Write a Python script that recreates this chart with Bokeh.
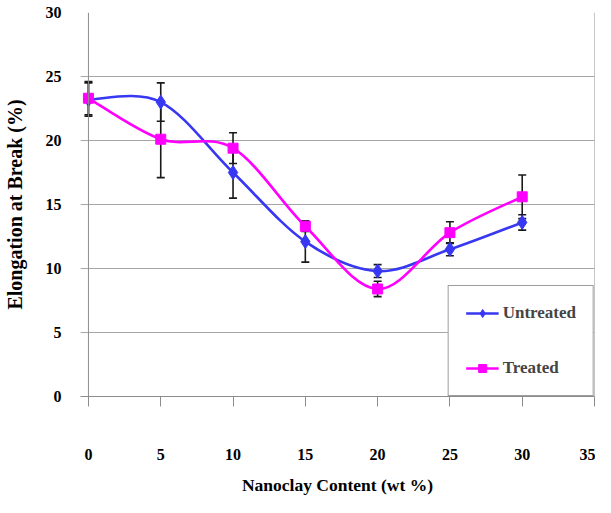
from bokeh.plotting import figure
from bokeh.models import Whisker, TeeHead, ColumnDataSource, Legend, LegendItem, FixedTicker, Range1d, Span
from bokeh.embed import file_html
from bokeh.resources import INLINE

# ---- data ----
nanoclay = [0, 5, 10, 15, 20, 25, 30]
untreated = [23.2, 23.0, 17.5, 12.1, 9.8, 11.5, 13.6]
untreated_err = [1.3, 1.5, 2.0, 1.6, 0.5, 0.5, 0.6]
treated = [23.3, 20.1, 19.4, 13.3, 8.4, 12.8, 15.6]
treated_err = [1.3, 3.0, 1.2, 0.4, 0.6, 0.85, 1.7]
x_ticks = [0, 5, 10, 15, 20, 25, 30, 35]
y_ticks = [0, 5, 10, 15, 20, 25, 30]

FONT = "Liberation Serif"
BLUE = "#3838f2"
MAGENTA = "#ff00ff"
GRAY = "#8c8c8c"


def smooth_segments(xs, ys):
    """Bezier segments (Catmull-Rom style smoothing, like a spreadsheet smoothed line)."""
    n = len(xs)
    seg = dict(x0=[], y0=[], x1=[], y1=[], cx0=[], cy0=[], cx1=[], cy1=[])
    for i in range(n - 1):
        ip = max(i - 1, 0)
        inn = min(i + 2, n - 1)
        seg["x0"].append(xs[i]); seg["y0"].append(ys[i])
        seg["x1"].append(xs[i + 1]); seg["y1"].append(ys[i + 1])
        seg["cx0"].append(xs[i] + (xs[i + 1] - xs[ip]) / 6.0)
        seg["cy0"].append(ys[i] + (ys[i + 1] - ys[ip]) / 6.0)
        seg["cx1"].append(xs[i + 1] - (xs[inn] - xs[i]) / 6.0)
        seg["cy1"].append(ys[i + 1] - (ys[inn] - ys[i]) / 6.0)
    return ColumnDataSource(seg)


# the frame starts 8px left of x=0 so that gridlines stick out like tick marks
p = figure(width=595, height=497, output_backend="svg", toolbar_location=None,
           x_range=Range1d(-0.55, 35), y_range=Range1d(0, 30),
           min_border_left=79, min_border_right=1, min_border_top=12, min_border_bottom=99)

p.background_fill_color = "white"
p.border_fill_color = "white"
p.outline_line_color = None

p.xgrid.visible = False
p.ygrid.grid_line_color = "#a6a6a6"
p.ygrid.grid_line_width = 1.2

for ax in (p.xaxis[0], p.yaxis[0]):
    ax.axis_line_color = GRAY
    ax.major_tick_line_color = GRAY
    ax.minor_tick_line_color = None
    ax.major_tick_in = 0
    ax.major_label_text_font = FONT
    ax.major_label_text_font_style = "bold"
    ax.major_label_text_font_size = "16px"
    ax.major_label_text_color = "black"
    ax.axis_label_text_font = FONT
    ax.axis_label_text_font_style = "bold"
    ax.axis_label_text_color = "black"

p.xaxis.ticker = FixedTicker(ticks=x_ticks)
p.yaxis.ticker = FixedTicker(ticks=y_ticks)
p.yaxis.axis_line_color = None
p.yaxis.major_tick_line_color = None
p.yaxis.major_tick_out = 0
p.xaxis.major_tick_out = 10
p.xaxis.major_label_standoff = 42
p.yaxis.major_label_standoff = 19
p.xaxis.axis_label = "Nanoclay Content (wt %)"
p.yaxis.axis_label = "Elongation at Break (%)"
p.xaxis.axis_label_text_font_size = "17.5px"
p.yaxis.axis_label_text_font_size = "20px"
p.xaxis.axis_label_standoff = 12
p.yaxis.axis_label_standoff = 17

# value axis line at x = 0 and right border of the plot area
p.add_layout(Span(location=0, dimension="height", line_color=GRAY, line_width=1))
p.add_layout(Span(location=35, dimension="height", line_color=GRAY, line_width=1))

# error bars
src_u = ColumnDataSource(dict(x=nanoclay, y=untreated,
                              lo=[v - e for v, e in zip(untreated, untreated_err)],
                              hi=[v + e for v, e in zip(untreated, untreated_err)]))
src_t = ColumnDataSource(dict(x=nanoclay, y=treated,
                              lo=[v - e for v, e in zip(treated, treated_err)],
                              hi=[v + e for v, e in zip(treated, treated_err)]))
for src in (src_u, src_t):
    w = Whisker(base="x", lower="lo", upper="hi", source=src,
                line_color="#1a1a1a", line_width=1.6,
                upper_head=TeeHead(size=8, line_color="#1a1a1a", line_width=1.6),
                lower_head=TeeHead(size=8, line_color="#1a1a1a", line_width=1.6))
    p.add_layout(w)

# smooth lines
bu = p.bezier(x0="x0", y0="y0", x1="x1", y1="y1", cx0="cx0", cy0="cy0", cx1="cx1", cy1="cy1",
              source=smooth_segments(nanoclay, untreated), line_color=BLUE, line_width=2.6)
bt = p.bezier(x0="x0", y0="y0", x1="x1", y1="y1", cx0="cx0", cy0="cy0", cx1="cx1", cy1="cy1",
              source=smooth_segments(nanoclay, treated), line_color=MAGENTA, line_width=2.6)

mu = p.scatter(x="x", y="y", source=src_u, marker="diamond", size=14,
               fill_color=BLUE, line_color=BLUE)
mt = p.scatter(x="x", y="y", source=src_t, marker="square", size=10,
               fill_color=MAGENTA, line_color=MAGENTA)

legend = Legend(items=[LegendItem(label="Untreated", renderers=[bu, mu]),
                       LegendItem(label="Treated", renderers=[bt, mt])],
                location="bottom_right", margin=0, padding=17, spacing=35,
                glyph_width=33, glyph_height=20, label_height=20, label_standoff=4,
                label_text_font=FONT, label_text_font_style="bold", label_text_font_size="17px",
                border_line_color="#3c3c3c", border_line_width=1.5,
                background_fill_color="white", background_fill_alpha=1.0)
p.add_layout(legend)

open("out.html", "w").write(file_html(p, INLINE))
